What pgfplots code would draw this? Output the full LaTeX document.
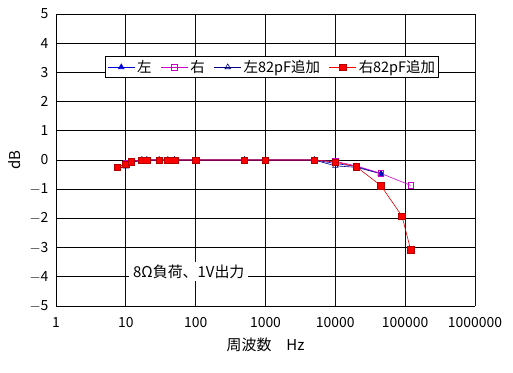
\documentclass[border=0pt]{standalone}
\usepackage{pgfplots}
\pgfplotsset{compat=1.18}
\usepackage{fontspec}
\setmainfont{Noto Sans CJK JP}
\definecolor{gridnavy}{RGB}{0,0,128}
\definecolor{mag}{RGB}{204,0,204}
\definecolor{lblue}{RGB}{0,0,220}
\begin{document}
\begin{tikzpicture}
\begin{axis}[
  scale only axis, width=419bp, height=292bp,
  xmode=log, log basis x=10,
  xmin=1, xmax=1000000, ymin=-5, ymax=5,
  xtick={1,10,100,1000,10000,100000,1000000},
  xticklabels={1,10,100,1000,10000,100000,1000000},
  ytick={-5,-4,...,5},
  yticklabels={$-$5,$-$4,$-$3,$-$2,$-$1,0,1,2,3,4,5},
  /pgf/number format/assume math mode=true,
  ticklabel style={font=\fontsize{14}{16}\selectfont},
  xticklabel style={yshift=-8bp},
  yticklabel style={xshift=-4bp},
  xmajorgrids, ymajorgrids,
  x grid style={gridnavy, line width=0.8pt},
  y grid style={black, line width=0.8pt},
  major tick length=0pt, minor tick num=0,
  axis x line*=bottom, axis y line*=left,
  axis line style={black, line width=0.8pt, -},
  xlabel={周波数\hspace{1em}Hz},
  ylabel={dB},
  label style={font=\fontsize{15}{17}\selectfont},
  xlabel style={yshift=-3bp},
  ylabel style={yshift=2bp},
  legend columns=4,
  legend style={at={(rel axis cs:0.516,0.818)}, anchor=center, draw=black, line width=0.8pt, fill=white, font=\fontsize{14.5}{16}\selectfont, inner sep=1.5bp, /tikz/every even column/.append style={column sep=7bp}},
  legend cell align=left,
  legend image code/.code={\draw[mark repeat=2,mark phase=2] plot coordinates {(0cm,0cm)(0.48cm,0cm)(0.96cm,0cm)};},
  legend image post style={line width=0.6pt},
]
\coordinate (sw) at (rel axis cs:0,0);
\coordinate (ne) at (rel axis cs:1,1);
\addlegendimage{lblue, line width=0.6pt, mark=triangle*, mark size=3.2bp, mark options={fill=lblue, solid}}
\addlegendentry{左}
\addlegendimage{mag, line width=0.6pt, mark=square, mark size=2.8bp, mark options={fill=white, solid}}
\addlegendentry{右}
\addlegendimage{gridnavy, line width=0.6pt, mark=triangle, mark size=3.2bp, mark options={fill=white, solid}}
\addlegendentry{左82pF追加}
\addlegendimage{red, line width=0.6pt, mark=square*, mark size=3.2bp, mark options={fill=red, draw=red!70!black, solid}}
\addlegendentry{右82pF追加}
\addplot[forget plot, lblue, line width=0.6pt, mark=triangle*, mark size=3.2bp, mark options={fill=lblue, solid}] coordinates {
(7.5,-0.28)(10,-0.2)(12,-0.08)(17,0)(20,0)(30,0)(40,0)(50,0)(100,0)(500,0)(1000,0)(5000,0)(10000,-0.12)(20000,-0.22)(45000,-0.47)};
\addplot[forget plot, gridnavy, line width=0.6pt, mark=triangle, mark size=3.2bp, mark options={fill=white, solid}] coordinates {
(7.5,-0.3)(10,-0.22)(12,-0.09)(17,0)(20,0)(30,0)(40,0)(50,0)(100,0)(500,0)(1000,0)(5000,0)(10000,-0.2)(20000,-0.25)(45000,-0.47)};
\addplot[forget plot, mag, line width=0.6pt, mark=square, mark size=2.8bp, mark options={fill=white, solid}] coordinates {
(7.5,-0.24)(10,-0.12)(12,-0.03)(17,0)(20,0)(30,0)(40,0)(50,0)(100,0)(500,0)(1000,0)(5000,0)(10000,-0.05)(20000,-0.2)(45000,-0.46)(120000,-0.87)};
\addplot[forget plot, red!85!black, line width=0.6pt, mark=square*, mark size=3.2bp, mark options={fill=red, draw=red!70!black, solid}] coordinates {
(7.5,-0.24)(10,-0.15)(12,-0.06)(17,0)(20,0)(30,0)(40,0)(50,0)(100,0)(500,0)(1000,0)(5000,0)(10000,-0.07)(20000,-0.23)(45000,-0.88)(90000,-1.92)(120000,-3.08)};
\node[anchor=west, fill=white, inner xsep=4bp, inner ysep=3bp, font=\fontsize{15}{17}\selectfont] at (axis cs:11.1,-3.82) {8Ω負荷、1V出力};
\end{axis}
\path[use as bounding box] ([shift={(-56bp,-66bp)}]sw) rectangle ([shift={(38bp,14bp)}]ne);
\end{tikzpicture}
\end{document}
